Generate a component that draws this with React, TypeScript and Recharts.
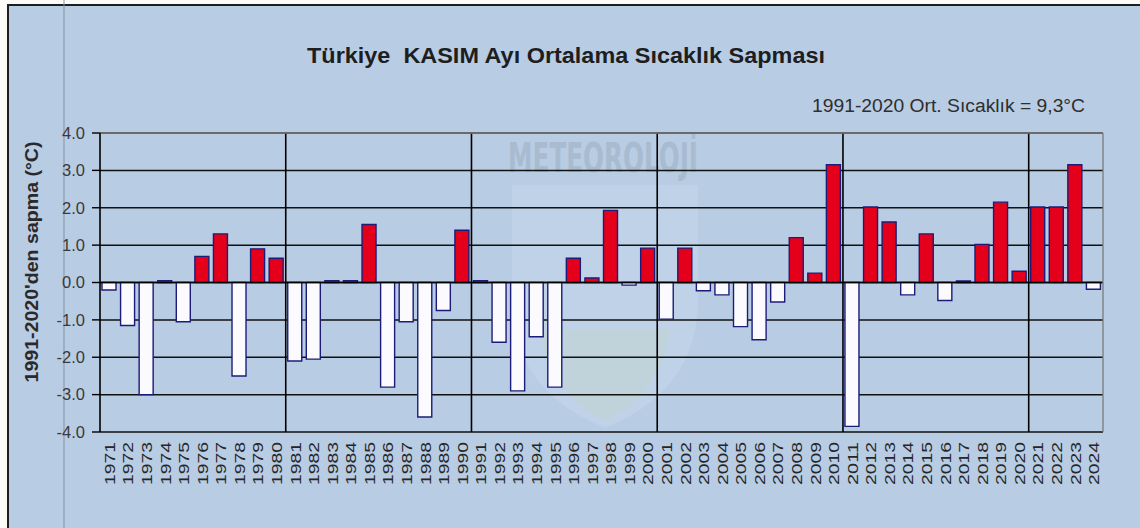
import React from 'react';
import { BarChart, Bar, XAxis, YAxis, CartesianGrid, ReferenceLine, Cell } from 'recharts';

const years: string[] = [
  '1971','1972','1973','1974','1975','1976','1977','1978','1979','1980',
  '1981','1982','1983','1984','1985','1986','1987','1988','1989','1990',
  '1991','1992','1993','1994','1995','1996','1997','1998','1999','2000',
  '2001','2002','2003','2004','2005','2006','2007','2008','2009','2010',
  '2011','2012','2013','2014','2015','2016','2017','2018','2019','2020',
  '2021','2022','2023','2024',
];

const anomalies: number[] = [
  -0.2, -1.15, -3.0, 0.05, -1.05, 0.7, 1.3, -2.5, 0.9, 0.65,
  -2.1, -2.05, 0.05, 0.05, 1.55, -2.8, -1.05, -3.6, -0.75, 1.4,
  0.05, -1.6, -2.9, -1.45, -2.8, 0.65, 0.12, 1.93, -0.07, 0.92,
  -0.98, 0.92, -0.22, -0.33, -1.18, -1.53, -0.52, 1.2, 0.25, 3.15,
  -3.85, 2.02, 1.62, -0.33, 1.3, -0.48, 0.04, 1.02, 2.15, 0.3,
  2.02, 2.02, 3.15, -0.18,
];

const yTicks: number[] = [-4, -3, -2, -1, 0, 1, 2, 3, 4];
const decadeStarts: string[] = ['1981', '1991', '2001', '2011', '2021'];

const titleText = 'Türkiye  KASIM Ayı Ortalama Sıcaklık Sapması';
const subtitleText = '1991-2020 Ort. Sıcaklık = 9,3°C';
const yLabelText = "1991-2020'den sapma (°C)";
const watermarkText = 'METEOROLOJİ';

const data = years.map((y, i) => ({ year: y, v: anomalies[i] }));

const FONT = "'Liberation Sans', Arial, sans-serif";

const XTick = (props: any) => {
  const { x, y, payload } = props;
  return (
    <text
      transform={`translate(${x + 5.5},${y + 2}) rotate(-90)`}
      textAnchor="end"
      fontSize={15}
      fill="#262626"
      fontFamily={FONT}
      textLength={43}
      lengthAdjust="spacingAndGlyphs"
    >
      {payload.value}
    </text>
  );
};

export default function App() {
  return (
    <div style={{ position: 'absolute', left: 0, top: 0, width: 1140, height: 528, background: '#fbfbf7', overflow: 'hidden' }}>
      <svg width={1140} height={528} style={{ position: 'absolute', left: 0, top: 0 }}>
        <rect x={8} y={5} width={1140} height={540} fill="#b8cce4" stroke="#1e1e1e" strokeWidth={2} />
        <line x1={64} y1={0} x2={64} y2={528} stroke="#8393a6" strokeWidth={1} />
        <path d="M 512 185 L 698 185 L 698 300 Q 698 390 605 428 Q 512 390 512 300 Z" fill="#c6d7ec" opacity={0.5} />
        <path d="M 540 330 L 670 330 Q 660 395 605 420 Q 550 395 540 330 Z" fill="#c2d6c4" opacity={0.35} />
        <text x={603} y={172} textAnchor="middle" fontWeight="bold" fontSize={40} fontFamily="'DejaVu Sans Condensed', 'DejaVu Sans', sans-serif" fill="#8f9cab" opacity={0.35} textLength={190} lengthAdjust="spacingAndGlyphs">{watermarkText}</text>
        <text x={566} y={63} textAnchor="middle" fontWeight="bold" fontSize={22} fontFamily={FONT} fill="#1e1e1e" textLength={518} lengthAdjust="spacingAndGlyphs" style={{ whiteSpace: 'pre' }}>{titleText}</text>
        <text x={1085} y={112} textAnchor="end" fontSize={18} fontFamily={FONT} fill="#2e2e2e" textLength={273} lengthAdjust="spacingAndGlyphs">{subtitleText}</text>
        <text transform="translate(38,262) rotate(-90)" textAnchor="middle" fontWeight="bold" fontSize={18} fontFamily={FONT} fill="#2a2a2a" textLength={241} lengthAdjust="spacingAndGlyphs">{yLabelText}</text>
      </svg>
      <div style={{ position: 'absolute', left: 0, top: 0 }}>
        <BarChart width={1140} height={528} data={data} margin={{ top: 133, right: 37, bottom: 0, left: 40 }}>
          <CartesianGrid horizontal={true} vertical={false} stroke="#111" strokeWidth={1.5} />
          <XAxis dataKey="year" interval={0} tick={<XTick />} axisLine={false} tickLine={false} height={96} />
          <YAxis
            type="number"
            domain={[-4, 4]}
            ticks={yTicks}
            interval={0}
            width={60}
            tickFormatter={(v: number) => v.toFixed(1)}
            axisLine={{ stroke: '#000', strokeWidth: 1.6 }}
            tickLine={{ stroke: '#000', strokeWidth: 1.4 }}
            tickSize={8}
            tickMargin={7}
            tick={{ fill: '#3a3a3a', fontSize: 16.5, fontFamily: FONT }}
          />
          <Bar dataKey="v" barSize={14} isAnimationActive={false} stroke="#1c1c78" strokeWidth={1.4}>
            {data.map((d) => (
              <Cell key={d.year} fill={d.v >= 0 ? '#e4001b' : '#fbfbff'} />
            ))}
          </Bar>
          {decadeStarts.map((y) => (
            <ReferenceLine key={y} x={y} position="start" stroke="#000" strokeWidth={1.6} />
          ))}
          <ReferenceLine y={0} stroke="#000" strokeWidth={1.6} />
          <ReferenceLine y={4} stroke="#7a7a7a" strokeWidth={1.3} />
          <ReferenceLine x="2024" position="end" stroke="#7a7a7a" strokeWidth={1.3} />
        </BarChart>
      </div>
    </div>
  );
}
